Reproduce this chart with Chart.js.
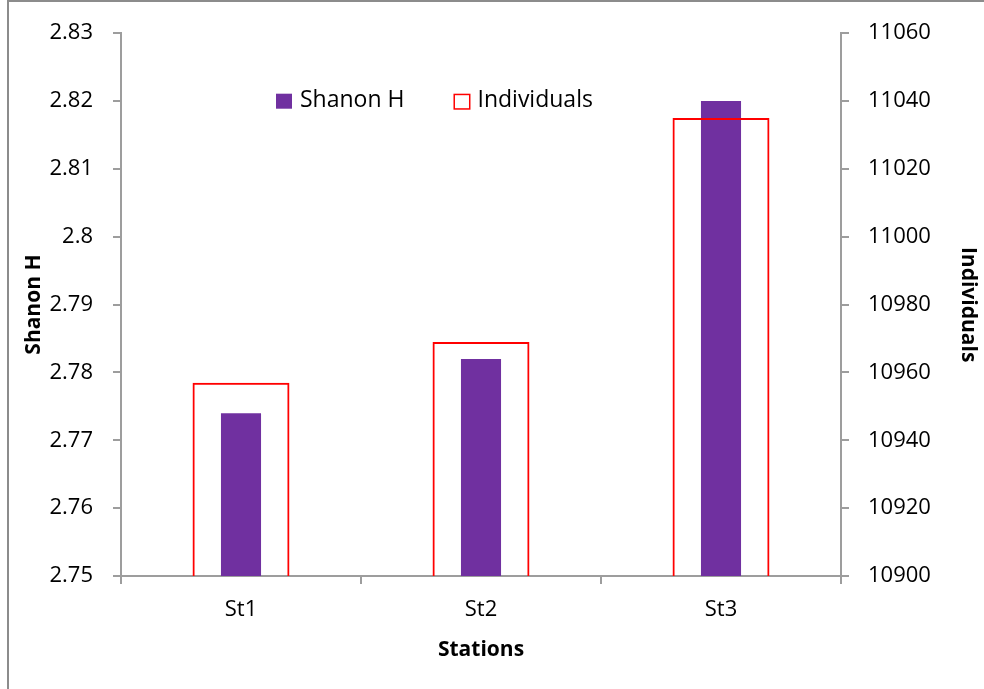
<!DOCTYPE html>
<html>
<head>
<meta charset="utf-8">
<script src="https://cdn.jsdelivr.net/npm/chart.js@4.4.1/dist/chart.umd.min.js"></script>
<style>
  html, body { margin: 0; padding: 0; background: #fff; }
  #wrap { position: relative; width: 984px; height: 689px; overflow: hidden; }
  #frame { position: absolute; left: 7px; top: 0; width: 1100px; height: 800px;
           border-left: 2px solid #8c8c8c; border-top: 2px solid #8c8c8c; }
  canvas { position: absolute; left: 0; top: 0; }
</style>
</head>
<body>
<div id="wrap">
  <div id="frame"></div>
  <canvas id="c" width="984" height="689"></canvas>
</div>
<script>
// Stations and the two measured series
const stations = ['St1', 'St2', 'St3'];
const shannonH = [2.774, 2.782, 2.820];
const individuals = [10957, 10969, 11035];

// Axis ticks
const shannonTicks = [2.75, 2.76, 2.77, 2.78, 2.79, 2.80, 2.81, 2.82, 2.83];
const shannonTickLabels = ['2.75', '2.76', '2.77', '2.78', '2.79', '2.8', '2.81', '2.82', '2.83'];
const individualTicks = [10900, 10920, 10940, 10960, 10980, 11000, 11020, 11040, 11060];
const individualTickLabels = ['10900', '10920', '10940', '10960', '10980', '11000', '11020', '11040', '11060'];

const FONT = "'Open Sans', 'DejaVu Sans', sans-serif";
const AXIS_GREY = '#9d9d9d';
const TEXT = '#000000';

// Legend drawn inside the plot area, near the top
const insetLegend = {
  id: 'insetLegend',
  afterDatasetsDraw(chart) {
    const ctx = chart.ctx;
    const area = chart.chartArea;
    const y = area.top + 68;
    let x = area.left + 155;
    ctx.save();
    ctx.font = `23px ${FONT}`;
    ctx.textBaseline = 'middle';
    ctx.textAlign = 'left';
    chart.data.datasets.forEach((ds, i) => {
      if (ds.backgroundColor && ds.borderWidth === 0) {
        ctx.fillStyle = ds.backgroundColor;
        ctx.fillRect(x, y - 7.5, 16, 15);
      } else {
        ctx.strokeStyle = ds.borderColor;
        ctx.lineWidth = 1.5;
        ctx.strokeRect(x + 0.75, y - 6.75, 15.5, 14.5);
      }
      ctx.fillStyle = TEXT;
      ctx.fillText(ds.label, x + 24, y - 1);
      x += 24 + ctx.measureText(ds.label).width + 49;
    });
    ctx.restore();
  }
};

new Chart(document.getElementById('c'), {
  type: 'bar',
  data: {
    labels: stations,
    datasets: [
      {
        label: 'Shanon H',
        data: shannonH,
        yAxisID: 'yL',
        backgroundColor: '#7030A0',
        borderWidth: 0,
        grouped: false,
        categoryPercentage: 1,
        barPercentage: 0.167,
        order: 2
      },
      {
        label: 'Individuals',
        data: individuals,
        yAxisID: 'yR',
        backgroundColor: 'rgba(0,0,0,0)',
        borderColor: '#FF0000',
        borderWidth: 2,
        grouped: false,
        categoryPercentage: 1,
        barPercentage: 0.404,
        order: 1
      }
    ]
  },
  options: {
    responsive: false,
    animation: false,
    devicePixelRatio: 1,
    layout: { padding: { top: 30, left: 0, right: 0, bottom: 0 } },
    plugins: {
      legend: { display: false },
      tooltip: { enabled: false }
    },
    scales: {
      x: {
        grid: { offset: true, drawOnChartArea: false, tickLength: 8, color: AXIS_GREY, lineWidth: 2 },
        border: { color: AXIS_GREY, width: 2 },
        ticks: { color: TEXT, font: { family: FONT, size: 22 }, padding: 13 },
        title: { display: true, text: 'Stations', color: TEXT,
                 font: { family: FONT, size: 21, weight: 'bold' }, padding: { top: 0, bottom: 26 } },
        afterFit(scale) { scale.height = 113; }
      },
      yL: {
        position: 'left',
        min: 2.75,
        max: 2.83,
        afterBuildTicks(scale) { scale.ticks = shannonTicks.map(v => ({ value: v })); },
        grid: { drawOnChartArea: false, tickLength: 8, color: AXIS_GREY, lineWidth: 2 },
        border: { color: AXIS_GREY, width: 2 },
        ticks: { color: TEXT, font: { family: FONT, size: 22 }, padding: 20,
                 callback: (v, i) => shannonTickLabels[i] },
        title: { display: true, text: 'Shanon H', color: TEXT,
                 font: { family: FONT, size: 21, weight: 'bold' }, padding: { top: 21, bottom: 0 } },
        afterFit(scale) { scale.width = 121; }
      },
      yR: {
        position: 'right',
        min: 10900,
        max: 11060,
        afterBuildTicks(scale) { scale.ticks = individualTicks.map(v => ({ value: v })); },
        grid: { drawOnChartArea: false, tickLength: 8, color: AXIS_GREY, lineWidth: 2 },
        border: { color: AXIS_GREY, width: 2 },
        ticks: { color: TEXT, font: { family: FONT, size: 22 }, padding: 19,
                 callback: (v, i) => individualTickLabels[i] },
        title: { display: true, text: 'Individuals', color: TEXT,
                 font: { family: FONT, size: 21, weight: 'bold' }, padding: { top: 3, bottom: 0 } },
        afterFit(scale) { scale.width = 143; }
      }
    }
  },
  plugins: [insetLegend]
});
</script>
</body>
</html>
